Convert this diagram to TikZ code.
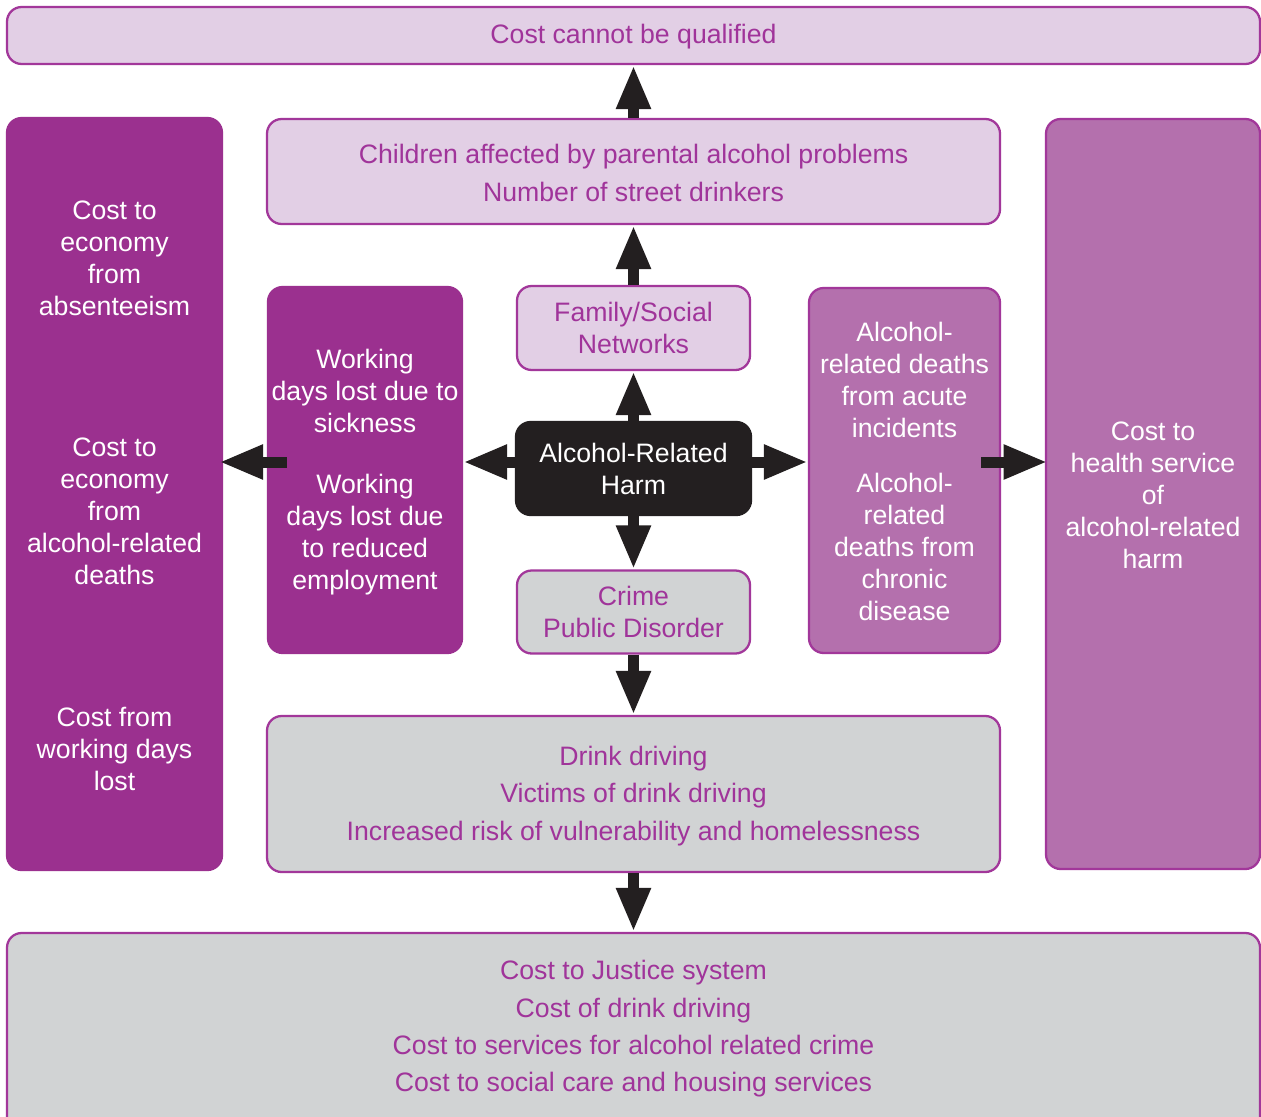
\documentclass[tikz,border=0pt]{standalone}
\usepackage{fontspec}
\setmainfont{Liberation Sans}
\usetikzlibrary{arrows.meta}
\definecolor{darkpurple}{HTML}{9B308F}
\definecolor{midpurple}{HTML}{B470AD}
\definecolor{lightpurple}{HTML}{E2CFE5}
\definecolor{greybox}{HTML}{D1D3D4}
\definecolor{edgepurple}{HTML}{A2379A}
\definecolor{textpurple}{HTML}{A0349A}
\definecolor{arrowblack}{HTML}{231F20}
\def\u{0.75pt}
\tikzset{
  box/.style={draw=edgepurple, line width=1.7pt, rounded corners=11pt, inner sep=0pt},
  lightbox/.style={box, fill=lightpurple},
  greyb/.style={box, fill=greybox},
  darkbox/.style={box, fill=darkpurple, draw=darkpurple},
  midbox/.style={box, fill=midpurple},
  blackbox/.style={box, fill=arrowblack, draw=arrowblack},
  ptext/.style={text=textpurple, align=center, font=\fontsize{20}{28}\selectfont},
  wtext/.style={text=white, align=center, font=\fontsize{20}{24}\selectfont},
  arr/.style={draw=arrowblack, line width=8.25pt, -{Triangle[length=33pt, width=24pt]}},
}
\begin{document}
\begin{tikzpicture}[x=0.75pt, y=-0.75pt]
\clip (0,0) rectangle (1261,1117);
\fill[white] (0,0) rectangle (1261,1117);
% boxes
\node[lightbox, minimum width=1253*\u, minimum height=57*\u] (top) at (633.5,35.5) {};
\node[ptext] (toptext) at (633.5,37) {Cost cannot be qualified};
\node[darkbox, minimum width=215*\u, minimum height=752*\u] (left) at (114.5,494) {};
\node[lightbox, minimum width=733*\u, minimum height=105*\u] (children) at (633.5,171.5) {};
\node[ptext] (childtext) at (633.5,173) {Children affected by parental alcohol problems\\Number of street drinkers};
\node[midbox, minimum width=214*\u, minimum height=750*\u] (right) at (1153,494) {};
\node[lightbox, minimum width=233*\u, minimum height=84*\u, ptext, font=\fontsize{20}{24}\selectfont] (family) at (633.5,328) {Family/Social\\Networks};
\node[darkbox, minimum width=194*\u, minimum height=366*\u] (work) at (365,470) {};
\node[blackbox, minimum width=235*\u, minimum height=93*\u, wtext] (harm) at (633.5,468.5) {Alcohol-Related\\Harm};
\node[midbox, minimum width=191*\u, minimum height=365*\u] (rmid) at (904.5,470.5) {};
\node[greyb, minimum width=233*\u, minimum height=83*\u, ptext, font=\fontsize{20}{24}\selectfont] (crime) at (633.5,612) {Crime\\Public Disorder};
\node[greyb, minimum width=733*\u, minimum height=156*\u] (drink) at (633.5,794) {};
\node[ptext] (drinktext) at (633.5,796) {Drink driving\\Victims of drink driving\\Increased risk of vulnerability and homelessness};
\node[greyb, minimum width=1253*\u, minimum height=207*\u] (bottom) at (633.5,1036.5) {};
\node[ptext] (bottomtext) at (633.5,1029) {Cost to Justice system\\Cost of drink driving\\Cost to services for alcohol related crime\\Cost to social care and housing services};
% column texts
\node[wtext] (l1) at (114.5,258) {Cost to\\economy\\from\\absenteeism};
\node[wtext] (l2) at (114.5,511) {Cost to\\economy\\from\\alcohol-related\\deaths};
\node[wtext] (l3) at (114.5,749) {Cost from\\working days\\lost};
\node[wtext] (w1) at (365,391) {Working\\days lost due to\\sickness};
\node[wtext] (w2) at (365,535) {Working\\days lost due\\to reduced\\employment};
\node[wtext] (r1) at (904.5,380) {Alcohol-\\related deaths\\from acute\\incidents};
\node[wtext] (r2) at (904.5,547) {Alcohol-\\related\\deaths from\\chronic\\disease};
\node[wtext] (rc) at (1153,495) {Cost to\\health service\\of\\alcohol-related\\harm};
% arrows
\coordinate (hy) at (0,462);
\draw[arr] (children.north) -- (top.south);
\draw[arr] (family.north) -- (children.south);
\draw[arr] (harm.north) -- (family.south);
\draw[arr] (harm.west |- hy) -- (work.east |- hy);
\draw[arr] ([xshift=15pt]work.west |- hy) -- ([xshift=-3pt]left.east |- hy);
\draw[arr] (harm.east |- hy) -- (rmid.west |- hy);
\draw[arr] ([xshift=-15pt]rmid.east |- hy) -- ([xshift=2pt]right.west |- hy);
\draw[arr] (harm.south) -- (crime.north);
\draw[arr] (crime.south) -- (drink.north);
\draw[arr] (drink.south) -- (bottom.north);
\end{tikzpicture}
\end{document}
